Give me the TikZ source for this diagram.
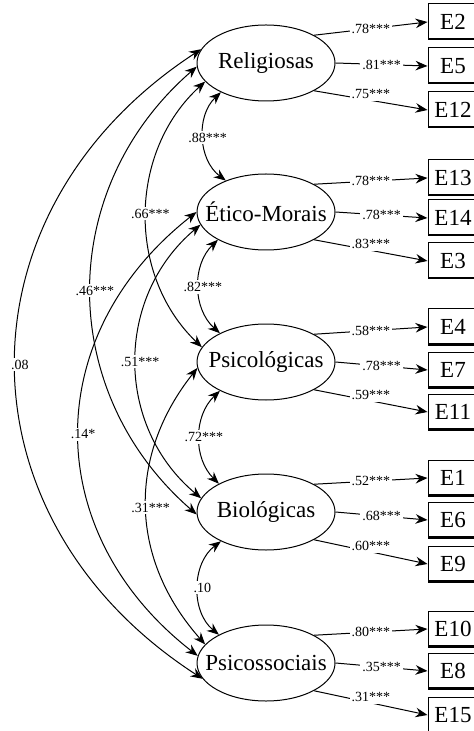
\documentclass[tikz,border=0pt]{standalone}
\usepackage{fontspec}
\setmainfont{Liberation Serif}
\usetikzlibrary{shapes.geometric,arrows.meta}
\begin{document}
\begin{tikzpicture}[x=0.5pt,y=0.5pt,line width=0.5pt,
                    >={Stealth[length=6pt,width=4.8pt,inset=2pt]},
                    fator/.style={draw,ellipse,minimum width=69pt,minimum height=38pt,inner xsep=-10pt,inner ysep=0pt,font=\fontsize{11.5}{13}\selectfont},
                    item/.style={draw,minimum width=25pt,minimum height=18pt,inner sep=0pt,font=\fontsize{11.5}{13}\selectfont,
                        path picture={\draw[line width=2pt] (path picture bounding box.south west) -- (path picture bounding box.south east);}},
                    coef/.style={fill=white,inner sep=1pt,font=\fontsize{7}{8}\selectfont},
                    cor/.style={coef,xshift=2pt}]
                    \useasboundingbox (0,0) rectangle (473,-731);

                    \node[fator] (rel) at (266,-63)  {Religiosas};
                    \node[fator] (eti) at (266,-212) {Ético-Morais};
                    \node[fator] (psi) at (266,-362) {Psicológicas};
                    \node[fator] (bio) at (266,-512) {Biológicas};
                    \node[fator] (soc) at (266,-663) {Psicossociais};

                    \node[item] (e2)  at (453,-22)  {E2};
                    \node[item] (e5)  at (453,-66)  {E5};
                    \node[item] (e12) at (453,-110) {E12};
                    \node[item] (e13) at (453,-178) {E13};
                    \node[item] (e14) at (453,-218) {E14};
                    \node[item] (e3)  at (453,-261) {E3};
                    \node[item] (e4)  at (453,-327) {E4};
                    \node[item] (e7)  at (453,-370) {E7};
                    \node[item] (e11) at (453,-412) {E11};
                    \node[item] (e1)  at (453,-478) {E1};
                    \node[item] (e6)  at (453,-520) {E6};
                    \node[item] (e9)  at (453,-564) {E9};
                    \node[item] (e10) at (453,-629) {E10};
                    \node[item] (e8)  at (453,-671) {E8};
                    \node[item] (e15) at (453,-715) {E15};

                    \draw[->] (rel.30) -- node[coef] {.78***} (e2.west);
                    \draw[->] (rel.east) -- node[coef] {.81***} (e5.west);
                    \draw[->] (rel.-30) -- node[coef,yshift=3pt] {.75***} (e12.west);
                    \draw[->] (eti.30) -- node[coef] {.78***} (e13.west);
                    \draw[->] (eti.east) -- node[coef] {.78***} (e14.west);
                    \draw[->] (eti.-30) -- node[coef,yshift=3pt] {.83***} (e3.west);
                    \draw[->] (psi.30) -- node[coef] {.58***} (e4.west);
                    \draw[->] (psi.east) -- node[coef] {.78***} (e7.west);
                    \draw[->] (psi.-30) -- node[coef,yshift=3pt] {.59***} (e11.west);
                    \draw[->] (bio.30) -- node[coef] {.52***} (e1.west);
                    \draw[->] (bio.east) -- node[coef] {.68***} (e6.west);
                    \draw[->] (bio.-30) -- node[coef,yshift=3pt] {.60***} (e9.west);
                    \draw[->] (soc.30) -- node[coef] {.80***} (e10.west);
                    \draw[->] (soc.east) -- node[coef] {.35***} (e8.west);
                    \draw[->] (soc.-30) -- node[coef,yshift=3pt] {.31***} (e15.west);

                    \draw[<->] (rel.213) to[bend right=50] node[cor] {.88***} (eti.142);
                    \draw[<->] (eti.210) to[bend right=47] node[cor] {.82***} (psi.148);
                    \draw[<->] (psi.212) to[bend right=46] node[cor] {.72***} (bio.149);
                    \draw[<->] (bio.213) to[bend right=52] node[cor] {.10} (soc.149);
                    \draw[<->] (rel.197) to[bend right=47] node[cor] {.66***} (psi.167);
                    \draw[<->] (eti.191) to[bend right=50,looseness=1.05] node[cor] {.51***} (bio.168);
                    \draw[<->] (psi.185) to[bend right=40,looseness=1.05] node[cor] {.31***} (soc.163);
                    \draw[<->] (rel.183) to[bend right=49,looseness=1.07] node[cor] {.46***} (bio.182);
                    \draw[<->] (eti.180) to[bend right=52,looseness=1.15] node[cor] {.14*} (soc.174);
                    \draw[<->] (rel.168) to[bend right=57,looseness=1.2] node[cor] {.08} (soc.194);
                \end{tikzpicture}
\end{document}
